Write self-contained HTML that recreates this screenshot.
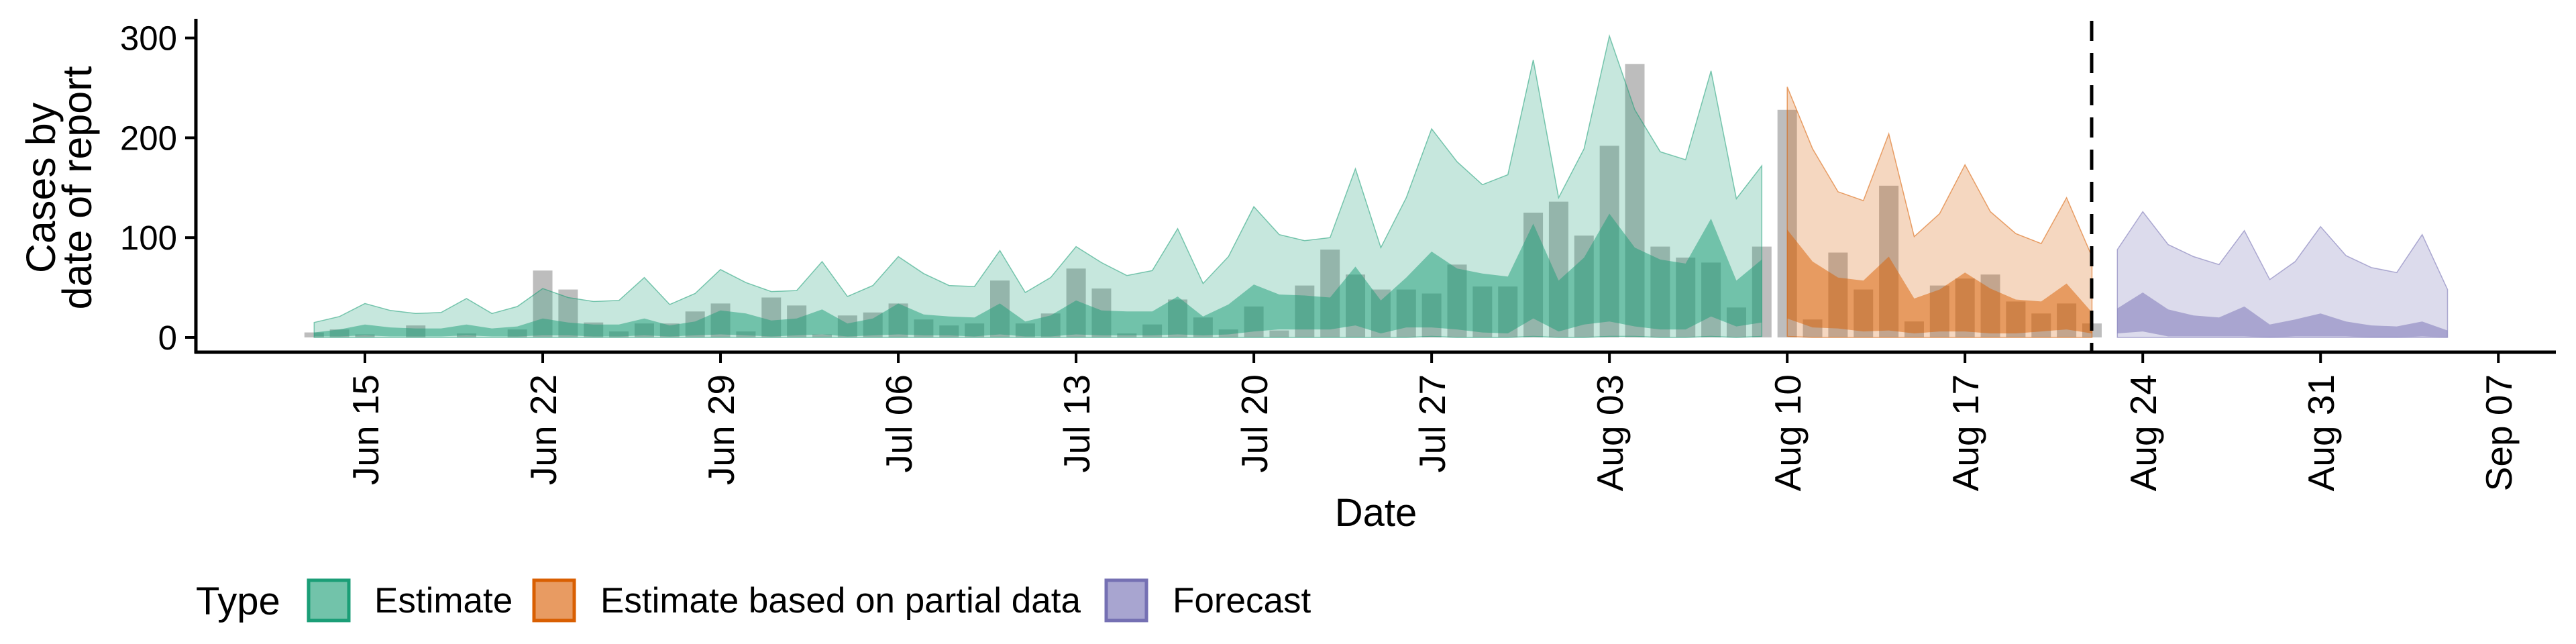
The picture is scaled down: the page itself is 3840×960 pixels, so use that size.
<!DOCTYPE html>
<html><head><meta charset="utf-8">
<style>
html,body{margin:0;padding:0;background:#fff;}
svg{display:block;font-family:"Liberation Sans",sans-serif;}
</style></head>
<body>
<svg id="chart" width="3840" height="960" viewBox="0 0 3840 960" xmlns="http://www.w3.org/2000/svg">
  <g id="bars"></g>
  <g id="ribbons"></g>
  <line x1="3118" y1="31" x2="3118" y2="525" stroke="#000" stroke-width="5" stroke-dasharray="30,18"/>
  <g id="axes">
    <line x1="292" y1="28" x2="292" y2="527" stroke="#000" stroke-width="5"/>
    <line x1="290" y1="525" x2="3810" y2="525" stroke="#000" stroke-width="5"/>
  </g>
  <g id="yticks"></g>
  <g id="xticks"></g>
  <text x="2051" y="784" font-size="58" text-anchor="middle">Date</text>
  <g transform="translate(0,280) rotate(-90)">
    <text x="0" y="82" font-size="61" text-anchor="middle">Cases by</text>
    <text x="0" y="136" font-size="61" text-anchor="middle">date of report</text>
  </g>
  <g id="legend">
    <text x="292" y="916" font-size="58">Type</text>
    <g>
      <rect x="460" y="865" width="60" height="60" fill="#72c3aa" stroke="#1b9e77" stroke-width="5"/>
      <text x="558" y="913" font-size="53">Estimate</text>
    </g>
    <g>
      <rect x="796" y="865" width="60" height="60" fill="#e89b62" stroke="#d95f02" stroke-width="5"/>
      <text x="895" y="913" font-size="53">Estimate based on partial data</text>
    </g>
    <g>
      <rect x="1649" y="865" width="60" height="60" fill="#a8a5d0" stroke="#7570b3" stroke-width="5"/>
      <text x="1748" y="913" font-size="53">Forecast</text>
    </g>
  </g>
</svg>
<script>
// day offsets relative to Jun 15
const barStartDay = -2;
const barValues = [5,8,3,0,12,0,4,0,8,67,48,15,6,14,14,26,34,6,40,32,3,22,
  25,34,18,12,14,57,14,24,69,49,4,13,38,20,8,31,7,52,88,63,48,48,44,73,51,51,125,136,102,192,274,91,80,75,30,
  91,228,18,85,48,152,16,52,59,63,36,24,34,14];

const estStartDay = -2;
const estUpper90 = [15,21,34,27,24,25,39,24,31,49,40,36,37,60,33,44,68,55,46,47,76,41,
  52,81,64,52,51,87,45,60,91,75,62,67,109,54,81,131,103,97,100,169,90,140,209,176,153,163,278,140,189,302,228,186,178,267,139,172];
const estUpper50 = [5,8,13,10,9,9,13,9,11,19,15,13,13,19,12,16,27,24,17,19,28,14,
  19,34,23,21,20,34,16,22,37,27,26,26,41,21,33,53,43,42,40,71,37,60,86,69,64,61,114,57,80,124,90,78,74,119,57,78];
const estLower50 = [1,1,2,1,1,1,2,1,1,2,2,1,1,2,1,2,3,2,1,2,3,1,
  2,3,2,2,1,3,1,1,3,2,2,2,3,2,3,6,8,8,8,12,4,10,10,8,5,4,19,6,13,16,11,8,8,21,11,15];
const estLower90 = [0,0,0,0,0,0,0,0,0,0,0,0,0,0,0,0,0,0,0,0,0,0,
  0,0,0,0,0,0,0,0,0,0,0,0,0,0,0,0,0,0,0,0,0,0,1,0,0,0,1,0,0,1,1,0,0,1,0,1];

const partStartDay = 56;
const partUpper90 = [251,189,146,137,204,101,124,173,126,104,94,140,81];
const partUpper50 = [108,76,60,57,81,39,48,65,49,38,36,54,25];
const partLower50 = [19,10,9,6,7,4,6,6,4,4,6,8,4];
const partLower90 = [1,0,0,0,0,0,0,0,0,0,0,0,0];

const fcStartDay = 69;
const fcUpper90 = [88,126,93,81,73,107,58,76,111,82,70,65,103,48];
const fcUpper50 = [29,45,28,22,20,31,13,18,24,16,12,11,16,7];
const fcLower50 = [4,6,1,1,1,1,0,1,1,1,0,0,1,0];
const fcLower90 = [0,0,0,0,0,0,0,0,0,0,0,0,0,0];

const yTicks = [0,100,200,300];
const xTickLabels = ["Jun 15","Jun 22","Jun 29","Jul 06","Jul 13","Jul 20","Jul 27","Aug 03","Aug 10","Aug 17","Aug 24","Aug 31","Sep 07"];

const NS = "http://www.w3.org/2000/svg";
function xScale(d){ return 544 + 37.86 * d; }
function yScale(v){ return 503 - v * 1.488; }

const barsG = document.getElementById('bars');
barValues.forEach((v,i)=>{
  const d = barStartDay + i;
  const r = document.createElementNS(NS,'rect');
  const w = 29;
  r.setAttribute('x', xScale(d) - w/2);
  r.setAttribute('y', yScale(v));
  r.setAttribute('width', w);
  r.setAttribute('height', Math.max(0, yScale(0) - yScale(v)));
  r.setAttribute('fill', '#bdbdbd');
  
  
  barsG.appendChild(r);
});

const ribG = document.getElementById('ribbons');
function band(start, up, lo, color, alpha, stroke, name){
  const pts = [];
  up.forEach((v,i)=>pts.push(xScale(start+i).toFixed(1)+','+yScale(v).toFixed(1)));
  for(let i=lo.length-1;i>=0;i--) pts.push(xScale(start+i).toFixed(1)+','+yScale(lo[i]).toFixed(1));
  const p = document.createElementNS(NS,'polygon');
  p.setAttribute('points', pts.join(' '));
  p.setAttribute('fill', color);
  p.setAttribute('fill-opacity', alpha);
  if(stroke){ p.setAttribute('stroke', color); p.setAttribute('stroke-opacity','0.55'); p.setAttribute('stroke-width','1.5'); }
  
  
  ribG.appendChild(p);
}
band(estStartDay, estUpper90, estLower90, '#1b9e77', 0.25, true, 'estimate-90-band');
band(estStartDay, estUpper50, estLower50, '#1b9e77', 0.5, false, 'estimate-50-band');
band(partStartDay, partUpper90, partLower90, '#d95f02', 0.25, true, 'partial-90-band');
band(partStartDay, partUpper50, partLower50, '#d95f02', 0.5, false, 'partial-50-band');
band(fcStartDay, fcUpper90, fcLower90, '#7570b3', 0.25, true, 'forecast-90-band');
band(fcStartDay, fcUpper50, fcLower50, '#7570b3', 0.5, false, 'forecast-50-band');

const yG = document.getElementById('yticks');
yTicks.forEach(v=>{
  const l = document.createElementNS(NS,'line');
  l.setAttribute('x1',276); l.setAttribute('x2',292);
  l.setAttribute('y1',yScale(v)); l.setAttribute('y2',yScale(v));
  l.setAttribute('stroke','#000'); l.setAttribute('stroke-width','4');
  
  
  yG.appendChild(l);
  const t = document.createElementNS(NS,'text');
  t.setAttribute('x',264); t.setAttribute('y',yScale(v)+18);
  t.setAttribute('text-anchor','end'); t.setAttribute('font-size','51');
  t.textContent = v;
  
  
  yG.appendChild(t);
});

const xG = document.getElementById('xticks');
xTickLabels.forEach((lab,i)=>{
  const x = xScale(i*7);
  const l = document.createElementNS(NS,'line');
  l.setAttribute('x1',x); l.setAttribute('x2',x);
  l.setAttribute('y1',525); l.setAttribute('y2',541);
  l.setAttribute('stroke','#000'); l.setAttribute('stroke-width','4');
  
  
  xG.appendChild(l);
  const t = document.createElementNS(NS,'text');
  t.setAttribute('transform','translate('+(x+20)+',558) rotate(-90)');
  t.setAttribute('text-anchor','end'); t.setAttribute('font-size','55');
  t.textContent = lab;
  
  
  xG.appendChild(t);
});
</script>
</body></html>
